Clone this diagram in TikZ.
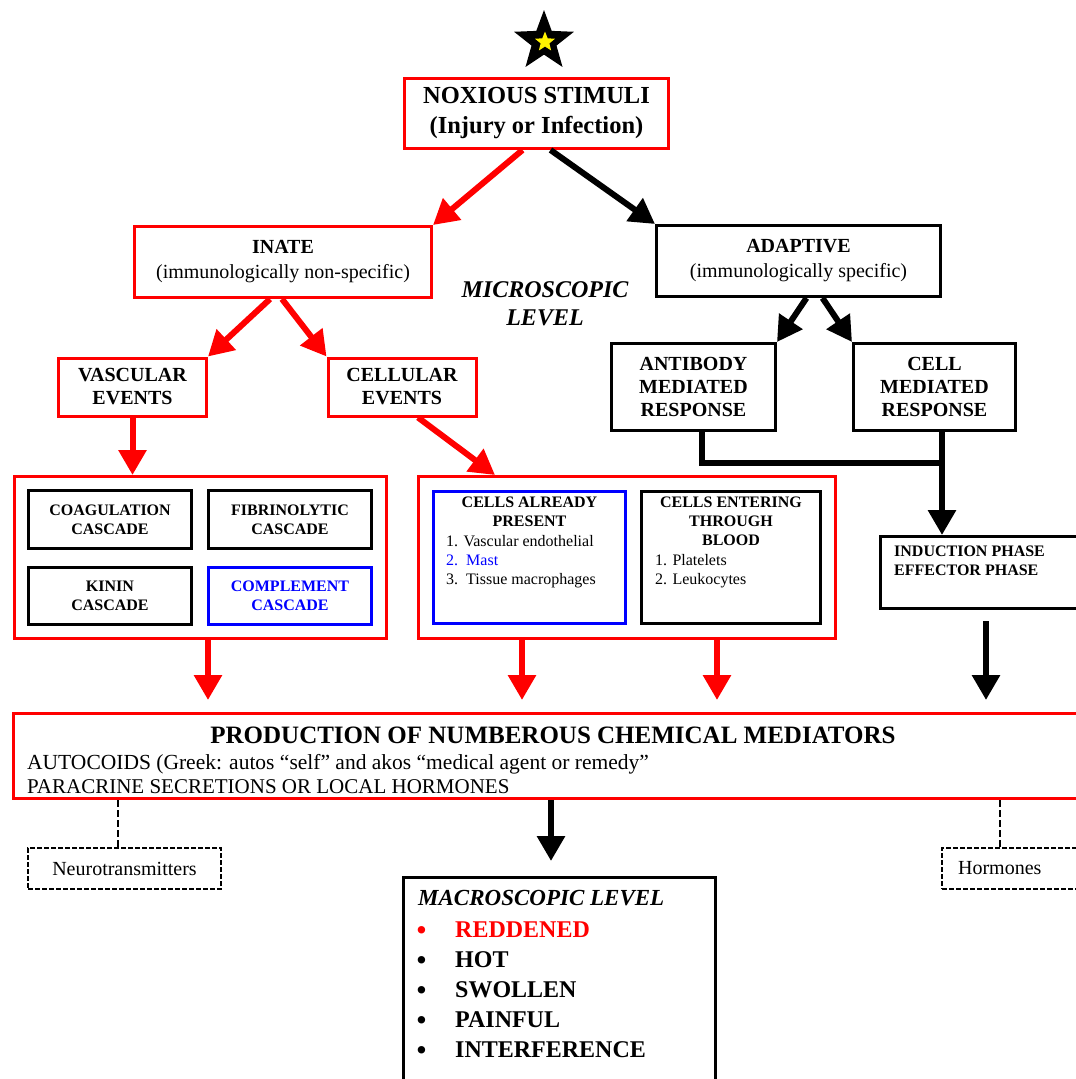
\documentclass[tikz,border=0pt]{standalone}
\usepackage{fontspec}
\setmainfont{Liberation Serif}
\usetikzlibrary{arrows.meta,shapes.geometric}
\newcommand\myfs[2]{\fontsize{#1}{#2}\selectfont}
\begin{document}
\begin{tikzpicture}[x=1pt,y=-1pt,
  bx/.style={draw, line width=3pt, inner sep=0pt, align=center},
  rbx/.style={bx, draw=red},
  arr/.style={line width=6pt, -{Triangle[length=25pt,width=27pt]}},
  rarr/.style={arr, draw=red},
  barr/.style={arr, draw=black},
  dbox/.style={draw, line width=2.2pt, dash pattern=on 5pt off 2pt, inner sep=0pt},
  dline/.style={line width=2.6pt, dash pattern=on 7pt off 3pt},
  ttl/.style={font=\myfs{20}{23}\bfseries},
  small/.style={font=\myfs{16}{19}\bfseries},
  txt/.style={inner sep=0pt, align=left},
  bul/.style={inner sep=0pt, font=\myfs{31}{31}, anchor=base west, text height=14pt, text depth=0pt}]
\useasboundingbox[fill=white] (0,0) rectangle (1076,1079);

% star
\node[star, star points=5, star point ratio=2.4, fill=black, minimum size=63pt, inner sep=0pt] (star) at (544,41.5) {};
\node[star, star points=5, star point ratio=2.3, fill=yellow, minimum size=21pt, inner sep=0pt] (ystar) at (545,42) {};

% top
\node[rbx, minimum width=264pt, minimum height=70pt, font=\myfs{24.5}{30}\bfseries] (nox) at (536.5,113.5) {NOXIOUS STIMULI\\(Injury or Infection)};

\node[rbx, minimum width=297pt, minimum height=71pt, font=\myfs{20}{25}] (inate) at (283,262) {\textbf{INATE}\\(immunologically non-specific)};
\node[bx, minimum width=284pt, minimum height=71pt, font=\myfs{20}{25}] (adapt) at (798.5,261) {\textbf{ADAPTIVE}\\(immunologically specific)};
\node[font=\myfs{24}{28}\bfseries\itshape, align=center] (micro) at (545,304) {MICROSCOPIC\\LEVEL};

\node[rbx, ttl, minimum width=148pt, minimum height=58pt] (vasc) at (132.5,387) {VASCULAR\\EVENTS};
\node[rbx, ttl, minimum width=148pt, minimum height=58pt] (cellu) at (402,387) {CELLULAR\\EVENTS};
\node[bx, ttl, minimum width=164pt, minimum height=87pt] (antib) at (693.5,387) {ANTIBODY\\MEDIATED\\RESPONSE};
\node[bx, ttl, minimum width=162pt, minimum height=87pt] (cellm) at (934.5,387) {CELL\\MEDIATED\\RESPONSE};

% vascular group
\node[rbx, minimum width=372pt, minimum height=162pt] (vbig) at (200.5,557.5) {};
\node[bx, small, minimum width=163pt, minimum height=58pt] (coag) at (110,519.5) {COAGULATION\\CASCADE};
\node[bx, small, minimum width=163pt, minimum height=58pt] (fibr) at (290,519.5) {FIBRINOLYTIC\\CASCADE};
\node[bx, small, minimum width=163pt, minimum height=57pt] (kinin) at (110,595.5) {KININ\\CASCADE};
\node[bx, small, draw=blue, text=blue, minimum width=163pt, minimum height=57pt] (compl) at (290,595.5) {COMPLEMENT\\CASCADE};

% cellular group
\node[rbx, minimum width=417pt, minimum height=162pt] (cbig) at (627,557.5) {};
\node[bx, draw=blue, minimum width=192pt, minimum height=132pt] (present) at (529.5,557.5) {};
\node[bx, minimum width=179pt, minimum height=132pt] (entering) at (731,557.5) {};
\node[small, inner sep=0pt, align=center, anchor=north] (presT) at ([yshift=-7pt]present.north) {CELLS ALREADY\\PRESENT};
\node[txt, font=\myfs{16}{19}, anchor=north west] (presL) at ([xshift=14pt,yshift=-45pt]present.north west) {1. Vascular endothelial\\\textcolor{blue}{2.\ \ Mast}\\3.\ \ Tissue macrophages};
\node[small, inner sep=0pt, align=center, anchor=north] (entT) at ([yshift=-7pt]entering.north) {CELLS ENTERING\\THROUGH\\BLOOD};
\node[txt, font=\myfs{16}{19}, anchor=north west] (entL) at ([xshift=15pt,yshift=-64pt]entering.north west) {1. Platelets\\2. Leukocytes};

% induction
\node[bx, minimum width=205pt, minimum height=72pt] (induct) at (983,572.5) {};
\node[txt, small, anchor=north west] (indT) at ([xshift=15pt,yshift=-11pt]induct.north west) {INDUCTION PHASE\\EFFECTOR PHASE};

% production
\node[rbx, minimum width=1070pt, minimum height=85pt] (prod) at (548,756) {};
\node[inner sep=0pt, font=\myfs{25}{30}\bfseries] (prodT) at (553,735) {PRODUCTION OF NUMBEROUS CHEMICAL MEDIATORS};
\node[inner sep=0pt, anchor=base west, font=\myfs{21.5}{24}] (prodA) at (27,769) {AUTOCOIDS (Greek: autos “self” and akos “medical agent or remedy”};
\node[inner sep=0pt, anchor=base west, font=\myfs{21}{24}] (prodB) at (27,793) {PARACRINE SECRETIONS OR LOCAL HORMONES};

% side boxes
\node[dbox, minimum width=193pt, minimum height=41pt, font=\myfs{20}{24}] (neuro) at (124.5,868.5) {Neurotransmitters};
\node[dbox, minimum height=41pt, text width=120pt, inner xsep=16pt, align=left, anchor=west, font=\myfs{20}{24}] (horm) at (941,868.5) {Hormones};

% macroscopic
\node[bx, minimum width=312pt, minimum height=215pt] (macro) at (559.5,985) {};
\node[inner sep=0pt, anchor=base west, font=\myfs{23}{28}\bfseries\itshape] (macT) at (418,905) {MACROSCOPIC LEVEL};
\node[bul, text=red] (b1) at (416,940) {•};
\node[inner sep=0pt, anchor=base west, font=\myfs{24}{28}\bfseries, text=red] (m1) at (455,937) {REDDENED};
\foreach \t [count=\i] in {HOT,SWOLLEN,PAINFUL,INTERFERENCE}{
  \node[bul] (b\i x) at (416,940+30*\i) {•};
  \node[inner sep=0pt, anchor=base west, font=\myfs{24}{28}\bfseries] (m\i x) at (455,937+30*\i) {\t};
}

% connectors
\draw[rarr] ([xshift=-14pt]nox.south) -- (inate.north east);
\draw[barr] ([xshift=14pt]nox.south) -- (adapt.north west);
\draw[rarr] ([xshift=-13pt]inate.south) -- (vasc.north east);
\draw[rarr] ([xshift=-1pt]inate.south) -- (cellu.north west);
\draw[barr] ([xshift=8pt]adapt.south) -- (antib.north east);
\draw[barr] ([xshift=24pt]adapt.south) -- (cellm.north west);
\draw[rarr] (vasc.south) -- (vasc.south |- vbig.north);
\draw[rarr] ([xshift=16pt]cellu.south) -- ([xshift=-132pt]cbig.north);

\coordinate (ja) at ([xshift=8.5pt]antib.south);
\coordinate (jc) at ([xshift=7.5pt]cellm.south);
\draw[line width=6.5pt] (ja) |- ([yshift=-31pt]jc);
\draw[barr] (jc) -- (jc |- induct.north);

\coordinate (va) at ([xshift=7.5pt]vbig.south);
\coordinate (ca) at ([xshift=-105pt]cbig.south);
\coordinate (cb) at ([xshift=90pt]cbig.south);
\coordinate (ia) at ([xshift=3pt]induct.south);
\draw[rarr, shorten >=12pt] (va) -- (va |- prod.north);
\draw[rarr, shorten >=12pt] (ca) -- (ca |- prod.north);
\draw[rarr, shorten >=12pt] (cb) -- (cb |- prod.north);
\draw[barr, shorten <=11pt, shorten >=12pt] (ia) -- (ia |- prod.north);

\coordinate (nl) at ([xshift=-6.5pt]neuro.north);
\coordinate (hl) at ([xshift=59pt]horm.north west);
\draw[dline] (nl |- prod.south) -- (nl);
\draw[dline] (hl |- prod.south) -- (hl);
\coordinate (pm) at ([xshift=-8.5pt]macro.north);
\draw[barr, shorten >=15pt] (pm |- prod.south) -- (pm);
\end{tikzpicture}
\end{document}
